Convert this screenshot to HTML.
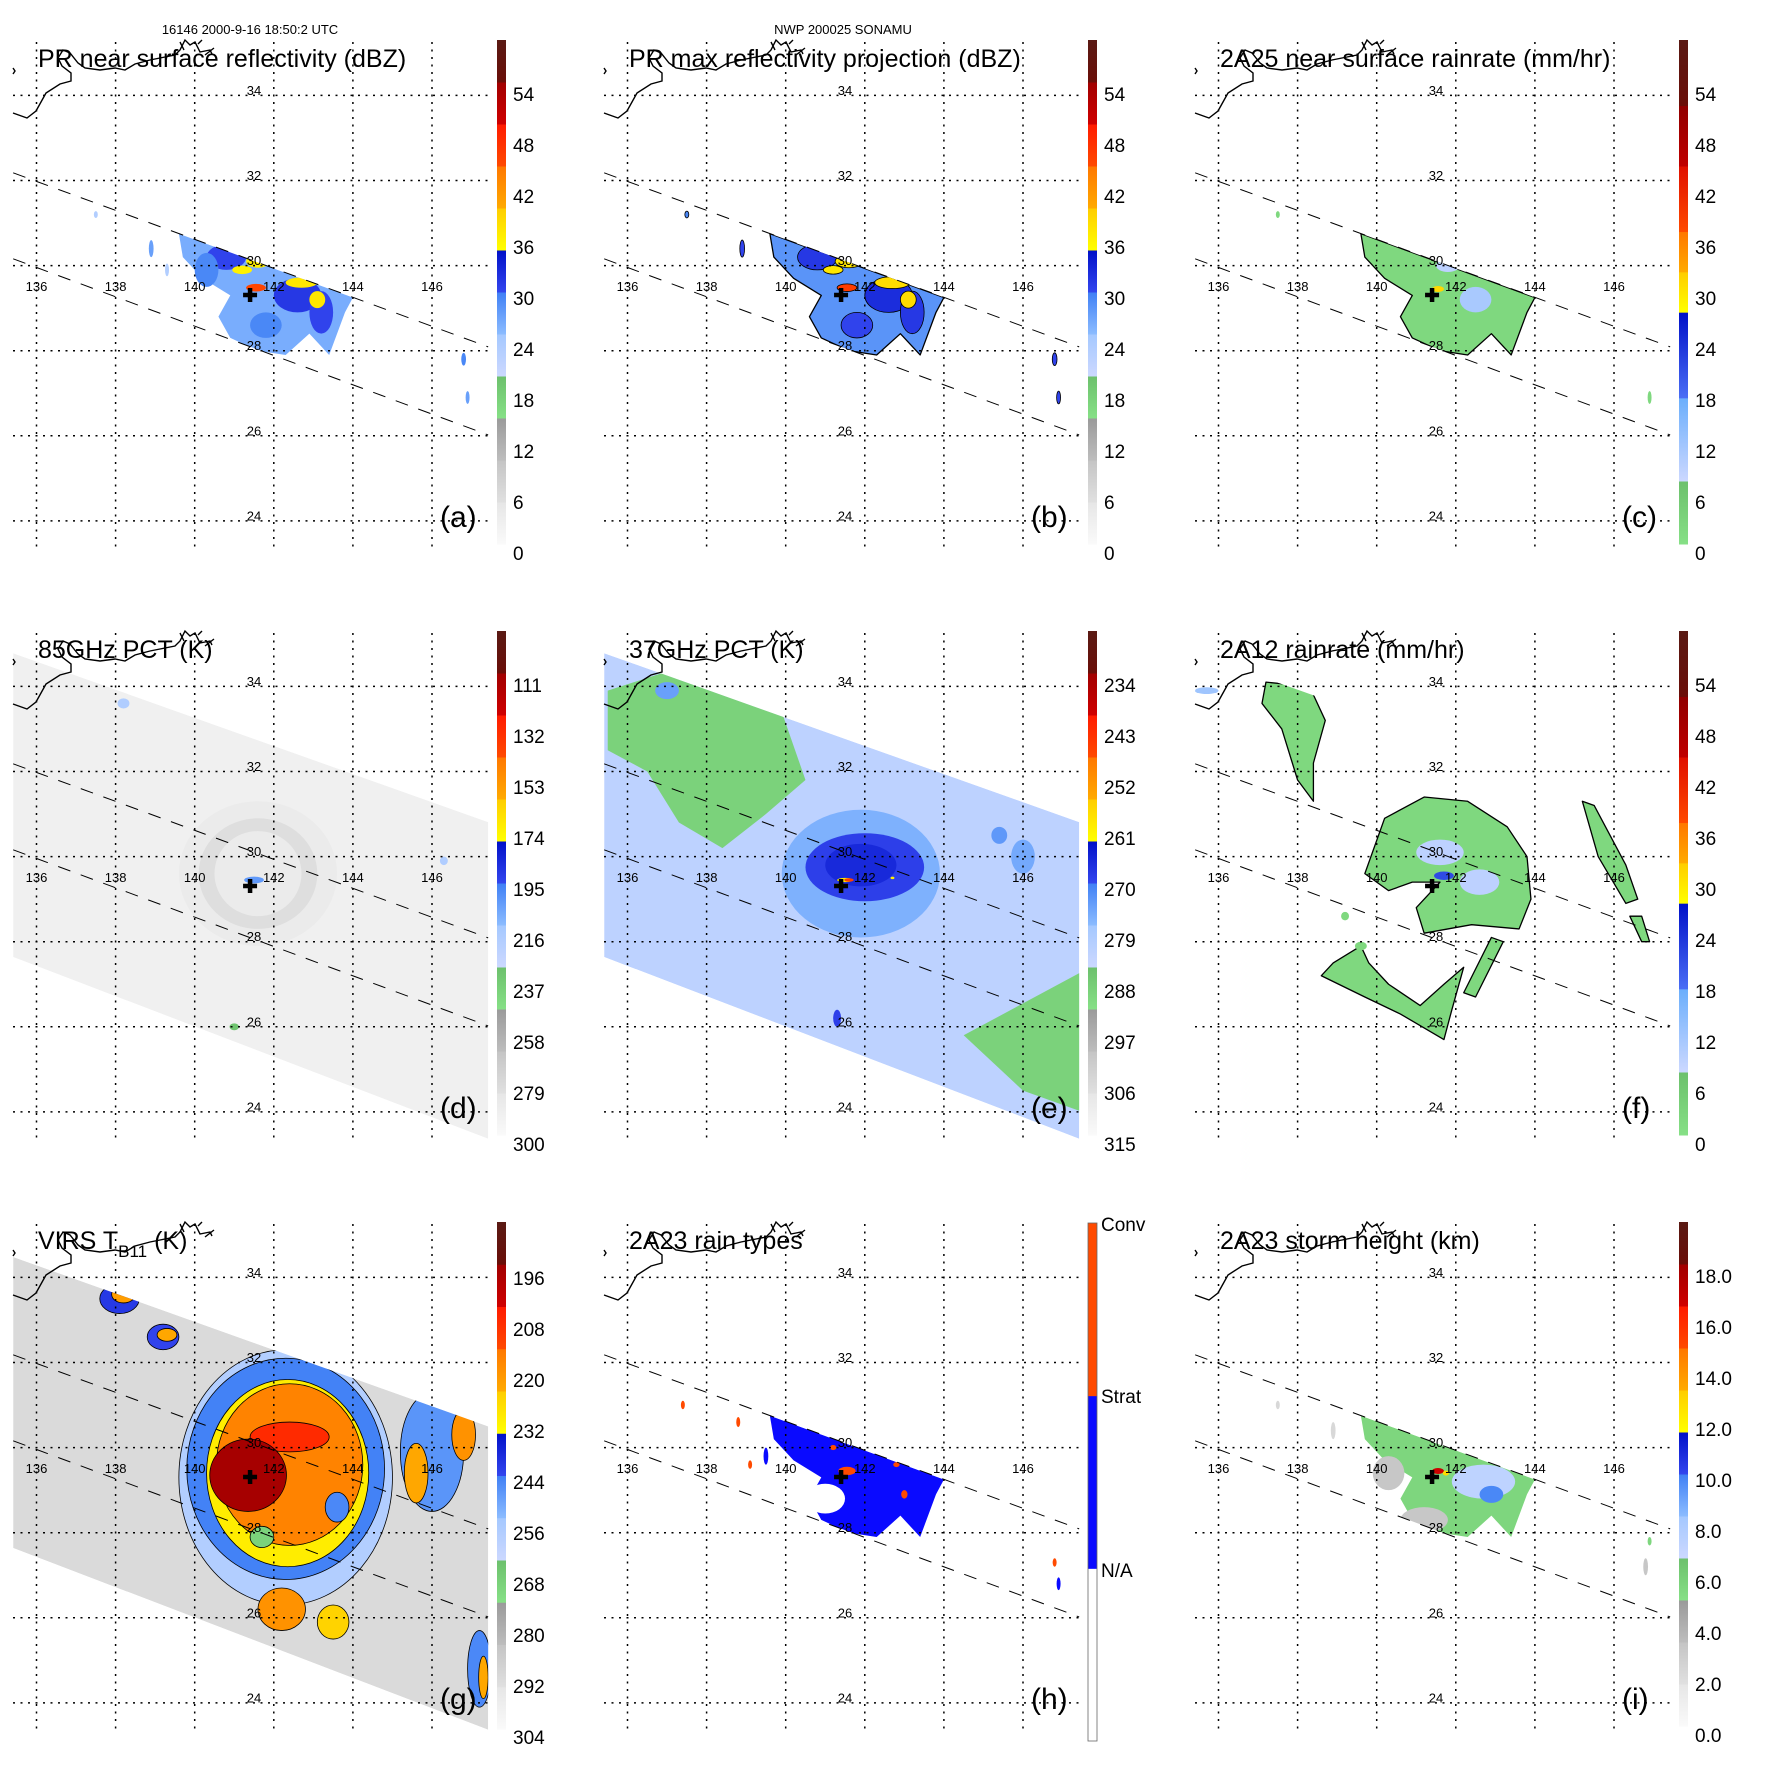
<!DOCTYPE html>
<html><head><meta charset="utf-8"><title>TRMM overpass panels</title>
<style>html,body{margin:0;padding:0;background:#fff}svg{display:block}text{font-family:"Liberation Sans",Arial,sans-serif}</style>
</head><body>
<svg id="fig" xmlns="http://www.w3.org/2000/svg" width="1771" height="1771" viewBox="0 0 1771 1771"></svg>
<script>
// ---------- data ----------
const lonTicks = [136,138,140,142,144,146];
const latTicks = [34,32,30,28,26,24];
const stormCenter = [141.4,29.31];
const prSwath = [[135.41,32.18],[147.42,28.09],[147.42,26.02],[135.41,30.16]];
const tmiSwath = [[135.41,34.78],[147.42,30.81],[147.42,23.37],[135.41,27.64]];
const virsSwath = [[135.41,34.48],[147.42,30.5],[147.42,23.37],[135.41,27.64]];
const rainPoly = [139.6,30.75, 144.0,29.25, 143.8,28.9, 143.4,27.9, 142.9,28.4, 142.3,27.9, 141.6,28.0, 140.9,28.3, 140.6,28.8, 140.9,29.3, 140.2,29.7, 139.7,30.2];

const dbzTicks = ['0','6','12','18','24','30','36','42','48','54'];
const rainTicks = ['0','6','12','18','24','30','36','42','48','54'];
const pct85Ticks = ['300','279','258','237','216','195','174','153','132','111'];
const pct37Ticks = ['315','306','297','288','279','270','261','252','243','234'];
const virsTicks = ['304','292','280','268','256','244','232','220','208','196'];
const heightTicks = ['0.0','2.0','4.0','6.0','8.0','10.0','12.0','14.0','16.0','18.0'];
const typeTicks = ['N/A','Strat','Conv'];

const aPolys = [[27].concat(rainPoly)];
const aBlobs = [[140.8,30.2,0.5,0.3,31],[142.6,29.3,0.6,0.4,32],[141.8,28.6,0.4,0.3,30],[143.2,28.9,0.3,0.5,31],[140.3,29.9,0.3,0.4,30],
 [141.6,30.1,0.3,0.15,37],[142.7,29.6,0.4,0.12,38],[141.2,29.9,0.25,0.1,37],[143.1,29.2,0.2,0.2,38],[141.55,29.48,0.25,0.09,46],
 [137.5,31.2,0.05,0.08,24],[138.9,30.4,0.06,0.2,28],[139.3,29.9,0.05,0.15,24],[146.8,27.8,0.06,0.15,30],[146.9,26.9,0.05,0.15,28],[138,31.5,0.1,0.05,30]];
const bPolys = [[29].concat(rainPoly)];
const bBlobs = [[140.8,30.2,0.5,0.3,32],[142.6,29.3,0.6,0.4,33],[141.8,28.6,0.4,0.3,31],[143.2,28.9,0.3,0.5,32],
 [141.6,30.1,0.35,0.15,38],[142.7,29.6,0.45,0.14,39],[141.2,29.9,0.25,0.1,38],[143.1,29.2,0.2,0.2,39],[141.55,29.48,0.25,0.09,47],
 [137.5,31.2,0.05,0.08,30],[138.9,30.4,0.06,0.2,31],[146.8,27.8,0.06,0.15,31],[146.9,26.9,0.05,0.15,31]];
const cPolys = [[3].concat(rainPoly)];
const cBlobs = [[142.5,29.2,0.4,0.3,12],[141.8,30.0,0.3,0.15,10],[141.55,29.45,0.15,0.07,32],[137.5,31.2,0.05,0.08,3],[146.9,26.9,0.05,0.15,3]];
const dPolys = [[230, 140.2,30.3, 141.5,30.6, 142.6,30.2, 142.4,29.6, 143.1,29.2, 142.5,28.9, 141.6,28.9, 141.0,29.2, 140.6,29.6, 140.7,30.0]];
const dBlobs = [[141.6,29.6,2.0,1.7,283],[141.6,29.6,1.5,1.3,278],[141.6,29.6,1.1,1.0,283],[141.5,29.45,0.25,0.08,200],[138.2,33.6,0.15,0.12,215],[146.3,29.9,0.1,0.1,215],[141.0,26.0,0.12,0.08,230]];
const ePolys = [[288, 135.5,33.9, 137.5,34.5, 139.9,33.4, 140.5,31.8, 139.5,31.0, 138.4,30.2, 137.3,30.8, 136.5,32.0, 135.5,32.5],
 [288, 144.5,25.8, 147.5,27.3, 147.5,24.0, 146,24.5]];
const eBlobs = [[141.9,29.6,2.0,1.5,275],[142.0,29.75,1.5,0.8,268],[141.9,29.8,0.9,0.5,265],[141.5,29.45,0.2,0.05,258],[141.6,29.45,0.12,0.04,245],
 [146.0,30.0,0.3,0.4,274],[145.4,30.5,0.2,0.2,272],[137.0,33.9,0.3,0.2,273],[141.3,26.2,0.1,0.2,268],[142.7,29.5,0.05,0.03,259]];
const fPolys = [[3, 137.2,34.1, 138.3,34.0, 138.7,33.2, 138.4,32.2, 138.4,31.3, 138.0,31.8, 137.6,33.0, 137.1,33.6],
 [3, 139.7,29.6, 140.2,30.9, 141.2,31.4, 142.3,31.3, 143.3,30.7, 143.8,30.0, 143.9,29.0, 143.6,28.3, 142.4,28.4, 141.2,28.2, 141.0,28.8, 141.6,29.4, 140.9,29.4, 140.3,29.2],
 [3, 138.6,27.2, 139.7,26.7, 140.6,26.3, 141.7,25.7, 141.9,26.4, 142.2,27.4, 141.7,27.0, 141.1,26.5, 140.3,27.0, 139.8,27.5, 139.6,27.9, 138.9,27.5],
 [3, 142.9,28.1, 143.2,28.0, 142.5,26.7, 142.2,26.8],
 [3, 145.2,31.3, 145.5,31.2, 146.3,29.8, 146.6,29.0, 146.3,28.9, 145.6,30.0],
 [3, 146.4,28.6, 146.7,28.6, 146.9,28.0, 146.7,28.0]];
const fBlobs = [[141.7,29.55,0.25,0.1,22],[141.6,30.1,0.6,0.3,10],[142.6,29.4,0.5,0.3,10],[135.7,33.9,0.3,0.08,13],[139.2,28.6,0.1,0.1,3],[139.6,27.9,0.15,0.1,3]];
const gBlobs = [[142.3,29.3,2.7,3.0,256],[142.3,29.5,2.5,2.6,243],[142.35,29.4,2.05,2.2,229],[142.4,29.6,1.85,1.9,215],
 [142.4,30.25,1.0,0.35,206],[141.35,29.35,0.97,0.85,194],[142.2,26.2,0.6,0.5,218],[143.5,25.9,0.4,0.4,224],
 [146.0,29.9,0.8,1.4,246],[146.8,30.3,0.3,0.6,218],[145.6,29.4,0.3,0.7,222],
 [138.1,33.5,0.5,0.35,240],[138.2,33.6,0.3,0.2,220],[139.2,32.6,0.4,0.3,242],[139.3,32.65,0.25,0.15,222],
 [147.2,24.8,0.3,0.9,244],[147.3,24.6,0.12,0.5,222],[141.7,27.9,0.3,0.25,268],[143.6,28.6,0.3,0.35,244]];
const hPolys = [[1.5].concat(rainPoly)];
const hBlobs = [[141.0,28.8,0.5,0.35,0.5],[141.55,29.45,0.22,0.1,2.5],[141.2,30.0,0.08,0.06,2.5],[142.8,29.6,0.08,0.06,2.5],[143.0,28.9,0.08,0.1,2.5],
 [137.4,31.0,0.05,0.1,2.5],[138.8,30.6,0.05,0.12,2.5],[139.1,29.6,0.05,0.1,2.5],[146.8,27.3,0.05,0.1,2.5],[146.9,26.8,0.05,0.15,1.5],[139.5,29.8,0.06,0.2,1.5]];
const iPolys = [[5.8].concat(rainPoly)];
const iBlobs = [[142.7,29.2,0.8,0.4,7.5],[142.9,28.9,0.3,0.2,10],[141.2,28.3,0.6,0.3,3.5],[140.3,29.4,0.4,0.4,3.5],[141.55,29.45,0.15,0.07,17],[141.75,29.4,0.08,0.06,13],
 [137.5,31.0,0.05,0.1,2.5],[138.9,30.4,0.06,0.2,2.5],[146.8,27.2,0.06,0.2,3.5],[146.9,27.8,0.05,0.1,5.8]];

// ---------- colormaps ----------
const STD = [[1/12,'#fafafa','#e6e6e6'],[2/12,'#e0e0e0','#c4c4c4'],[3/12,'#bdbdbd','#9a9a9a'],[4/12,'#86e086','#6cc06c'],
 [5/12,'#ccd8ff','#a4c8ff'],[6/12,'#8cbcff','#3f7ff5'],[7/12,'#3346ee','#0010c8'],[8/12,'#ffff00','#ffcc00'],
 [9/12,'#ffaa00','#ff7700'],[10/12,'#ff4a00','#ff1a00'],[11/12,'#d00000','#a00000'],[1,'#6a0e08','#5a1a14']];
const RAIN = [[0.125,'#86e086','#6cc06c'],[0.29,'#ccd8ff','#6aaefc'],[0.46,'#4a6ef5','#0010c8'],[0.54,'#ffff00','#ffcc00'],
 [0.62,'#ffaa00','#ff7700'],[0.75,'#ff4a00','#e01000'],[0.87,'#c00000','#900000'],[1,'#6a0e08','#5a1a14']];
const TYPES = [[1/3,'#ffffff','#ffffff'],[2/3,'#0a0aff','#0a0aff'],[1,'#ff4a00','#ff4a00']];

function hex(c){return [parseInt(c.substr(1,2),16),parseInt(c.substr(3,2),16),parseInt(c.substr(5,2),16)];}
function mixc(a,b,t){const A=hex(a),B=hex(b);return 'rgb('+A.map((v,i)=>Math.round(v+(B[i]-v)*t)).join(',')+')';}
function cmapColor(cm,f){f=Math.max(0,Math.min(0.9999,f));let lo=0;for(const s of cm){if(f<s[0]){return mixc(s[1],s[2],(f-lo)/(s[0]-lo));}lo=s[0];}return cm[cm.length-1][2];}

// ---------- projection ----------
function X(lon){return 36.5+(lon-136)*39.55;}
function Y(lat){return 95.4+(34-lat)*42.55;}

const panels = [
 {id:'a',col:0,row:0,title:'PR near surface reflectivity (dBZ)',cm:STD,ticks:dbzTicks,swath:prSwath,polys:aPolys,blobs:aBlobs,outline:false},
 {id:'b',col:1,row:0,title:'PR max reflectivity projection (dBZ)',cm:STD,ticks:dbzTicks,swath:prSwath,polys:bPolys,blobs:bBlobs,outline:true},
 {id:'c',col:2,row:0,title:'2A25 near surface rainrate (mm/hr)',cm:RAIN,ticks:rainTicks,swath:prSwath,polys:cPolys,blobs:cBlobs,outline:true},
 {id:'d',col:0,row:1,title:'85GHz PCT (K)',cm:STD,ticks:pct85Ticks,swath:tmiSwath,fill:288,polys:dPolys,blobs:dBlobs,outline:true},
 {id:'e',col:1,row:1,title:'37GHz PCT (K)',cm:STD,ticks:pct37Ticks,swath:tmiSwath,fill:281,polys:ePolys,blobs:eBlobs,outline:false},
 {id:'f',col:2,row:1,title:'2A12 rainrate (mm/hr)',cm:RAIN,ticks:rainTicks,swath:tmiSwath,polys:fPolys,blobs:fBlobs,outline:true},
 {id:'g',col:0,row:2,title:'VIRS',cm:STD,ticks:virsTicks,swath:virsSwath,fill:290,polys:[],blobs:gBlobs,outline:true,virs:true},
 {id:'h',col:1,row:2,title:'2A23 rain types',cm:TYPES,ticks:typeTicks,swath:prSwath,polys:hPolys,blobs:hBlobs,outline:false,types:true},
 {id:'i',col:2,row:2,title:'2A23 storm height (km)',cm:STD,ticks:heightTicks,swath:prSwath,polys:iPolys,blobs:iBlobs,outline:false}
];

const NS='http://www.w3.org/2000/svg';
const svg=document.getElementById('fig');
function mk(tag,parent){const e=document.createElementNS(NS,tag);parent.appendChild(e);return e;}
function at(e,o){for(const k in o)e.setAttribute(k,o[k]);}

function barGeom(p){
 if(p.types) return {top:41,bot:559};
 if(p.virs) return {top:40,bot:547,y0:555,dy:51};
 return {top:40,bot:544,y0:553,dy:51};
}
function valueFrac(p,v){
 const g=barGeom(p);
 if(p.types) return v/3;
 const t0=parseFloat(p.ticks[0]),t1=parseFloat(p.ticks[1]);
 const y=g.y0-g.dy*(v-t0)/(t1-t0);
 return (g.bot-y)/(g.bot-g.top);
}

let ht=mk('text',svg);
at(ht,{x:250,y:34,'font-size':13,'text-anchor':'middle'});
ht.textContent='16146 2000-9-16 18:50:2 UTC';


let ht2=mk('text',svg);
at(ht2,{x:843,y:34,'font-size':13,'text-anchor':'middle'});
ht2.textContent='NWP 200025 SONAMU';



const defs=mk('defs',svg);
const coastPath="M13,113 L27,118 L36,111 L46,93 L60,84 L71,81 L71,73 L62,66 L58,58 L63,50 L70,53 L78,63 L85,68 L100,70 L115,68 L125,70 L135,64 L150,60 L165,57 L175,55 L180,50 L185,40 L190,45 L195,42 L200,52 L210,50 L212,54 M13,68 L15,71 L13,74 M180,42 L184,50 M198,44 L202,40 M205,55 L214,48";

panels.forEach(p=>{
 const g=mk('g',svg);
 at(g,{transform:'translate('+(p.col*591)+','+(p.row*591)+')'});
 
 

 const cp=mk('clipPath',defs);
 cp.setAttribute('id','clip-'+p.id);
 const cpp=mk('polygon',cp);
 cpp.setAttribute('points',p.swath.map(q=>X(q[0])+','+Y(q[1])).join(' '));

 const field=mk('g',g);
 field.setAttribute('clip-path','url(#clip-'+p.id+')');
 
 
 if(p.fill!==undefined){
  const bg=mk('polygon',field);
  at(bg,{points:p.swath.map(q=>X(q[0])+','+Y(q[1])).join(' '),fill:cmapColor(p.cm,valueFrac(p,p.fill))});
  
  
 }
 p.polys.forEach(pl=>{
  const pts=[];for(let i=1;i<pl.length;i+=2)pts.push(X(pl[i])+','+Y(pl[i+1]));
  const e=mk('polygon',field);
  at(e,{points:pts.join(' '),fill:cmapColor(p.cm,valueFrac(p,pl[0])),stroke:p.outline?'#000':'none','stroke-width':1.3,'stroke-linejoin':'round'});
  
  
 });
 p.blobs.forEach(b=>{
  const e=mk('ellipse',field);
  const out=(p.virs&&b[4]<270)||p.id==='b';
  at(e,{cx:X(b[0]),cy:Y(b[1]),rx:b[2]*39.55,ry:b[3]*42.55,fill:cmapColor(p.cm,valueFrac(p,b[4])),stroke:out?'#000':'none','stroke-width':0.8});
  
  
 });

 lonTicks.forEach(l=>{
  const ln=mk('line',g);
  at(ln,{x1:X(l),x2:X(l),y1:42,y2:551,stroke:'#000','stroke-width':1.5,'stroke-dasharray':'2,5.5'});
  
  
  const t=mk('text',g);
  at(t,{x:X(l),y:Y(29.5)+4,'font-size':13,'text-anchor':'middle'});
  t.textContent=l;
  
  
 });
 latTicks.forEach(l=>{
  const ln=mk('line',g);
  at(ln,{x1:13,x2:488,y1:Y(l),y2:Y(l),stroke:'#000','stroke-width':1.5,'stroke-dasharray':'2,5.5'});
  
  
  const t=mk('text',g);
  at(t,{x:254,y:Y(l)-0.5,'font-size':13,'text-anchor':'middle'});
  t.textContent=l;
  
  
 });
 [[0,1],[3,2]].forEach(ix=>{
  const a=prSwath[ix[0]],b=prSwath[ix[1]];
  const ln=mk('line',g);
  at(ln,{x1:X(a[0]),y1:Y(a[1]),x2:X(b[0]),y2:Y(b[1]),stroke:'#000','stroke-width':1,'stroke-dasharray':'13,11'});
  
  
 });
 const cst=mk('path',g);
 at(cst,{d:coastPath,fill:'none',stroke:'#000','stroke-width':1.4});
 
 
 const cx=X(stormCenter[0]),cy=Y(stormCenter[1]);
 const cr=mk('path',g);
 at(cr,{d:'M'+(cx-7)+','+cy+' H'+(cx+7)+' M'+cx+','+(cy-7)+' V'+(cy+7),stroke:'#000','stroke-width':4.5});
 
 

 const tt=mk('text',g);
 at(tt,{x:38,y:67,'font-size':25});
 if(p.virs){
  tt.textContent='VIRS T';
  const sub=mk('tspan',tt);at(sub,{'font-size':17,dy:8});sub.textContent='B11';
  const rest=mk('tspan',tt);at(rest,{dy:-8});rest.textContent=' (K)';
 } else tt.textContent=p.title;
 
 
 const pl=mk('text',g);
 at(pl,{x:440,y:527,'font-size':30});
 pl.textContent='('+p.id+')';
 
 

 const bg2=barGeom(p);
 const cb=mk('g',g);
 
 
 let lo=0;
 p.cm.forEach((s,k)=>{
  const gid='grad-'+p.id+'-'+k;
  const lg=mk('linearGradient',defs);
  at(lg,{id:gid,x1:0,y1:1,x2:0,y2:0});
  const s1=mk('stop',lg);at(s1,{offset:0,'stop-color':s[1]});
  const s2=mk('stop',lg);at(s2,{offset:1,'stop-color':s[2]});
  const yTop=bg2.bot-(bg2.bot-bg2.top)*s[0], yBot=bg2.bot-(bg2.bot-bg2.top)*lo;
  const r=mk('rect',cb);
  at(r,{x:497,y:yTop,width:9,height:yBot-yTop+0.5,fill:'url(#'+gid+')'});
  
  
  lo=s[0];
 });
 if(p.types){
  const o=mk('rect',cb);
  at(o,{x:497,y:bg2.top,width:9,height:bg2.bot-bg2.top,fill:'none',stroke:'#666','stroke-width':0.8});
  
  
 }
 p.ticks.forEach((lab,i)=>{
  let y;
  if(p.types) y=[388,214,42][i];
  else y=bg2.y0-bg2.dy*i;
  const t=mk('text',cb);
  at(t,{x:p.types?510:513,y:y+7,'font-size':19});
  t.textContent=lab;
  
  
 });
});
</script>
</body></html>
